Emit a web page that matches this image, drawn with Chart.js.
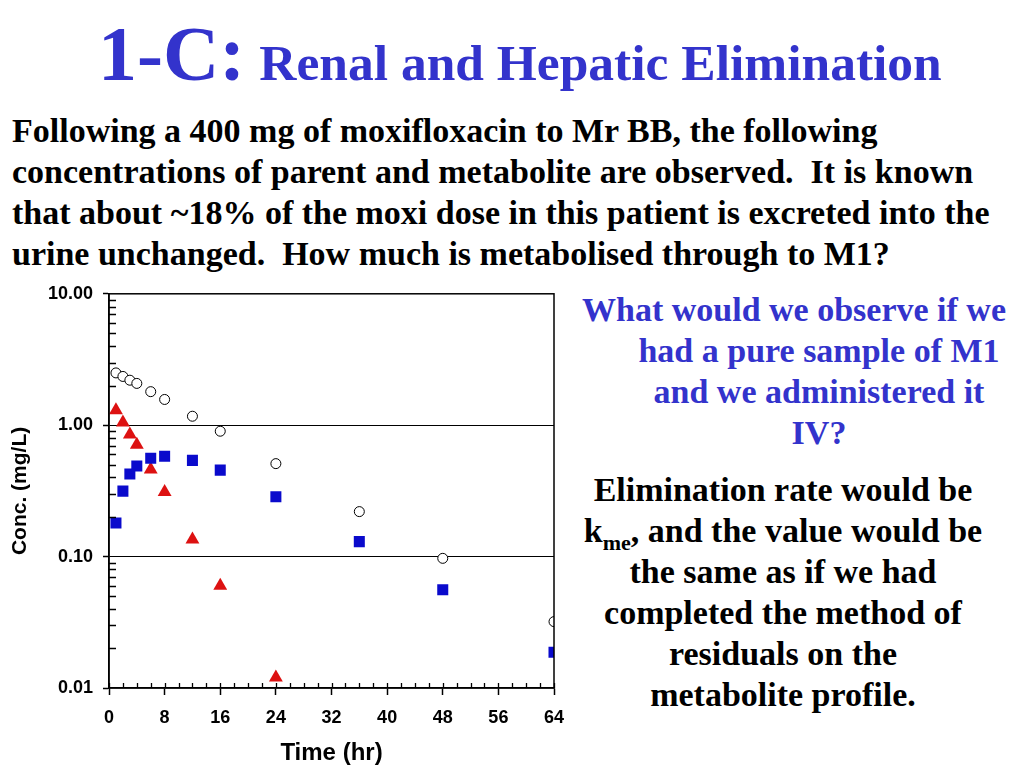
<!DOCTYPE html>
<html>
<head>
<meta charset="utf-8">
<script src="https://cdn.jsdelivr.net/npm/chart.js@4"></script>
<style>
  html, body { margin: 0; padding: 0; background: #fff; }
  body { width: 1024px; height: 768px; position: relative; overflow: hidden; }
  .serif { font-family: "Liberation Serif", "Times New Roman", serif; font-weight: bold; }
  #title { position: absolute; left: 98px; top: 9px; color: #3333CC; white-space: nowrap; }
  #title .big { font-size: 78px; margin-right: 14px; }
  #title .rest { font-size: 51.5px; }
  #intro { position: absolute; left: 12px; top: 110px; font-size: 34px; line-height: 41px; color: #000; white-space: nowrap; }
  #question { position: absolute; left: 579px; top: 289px; width: 480px; text-align: center; font-size: 34px; line-height: 41px; color: #3333CC; white-space: nowrap; }
  #question .first { position: relative; left: -25px; }
  #answer { position: absolute; left: 543px; top: 469px; width: 480px; text-align: center; font-size: 34px; line-height: 41px; color: #000; white-space: nowrap; }
  #answer sub { font-size: 22px; line-height: 0; }
  #chartBox { position: absolute; left: 0; top: 273px; width: 580px; height: 495px; }
</style>
</head>
<body>

<div id="title" class="serif"><span class="big">1-C:</span><span class="rest">Renal and Hepatic Elimination</span></div>

<div id="intro" class="serif">
Following a 400 mg of moxifloxacin to Mr BB, the following<br>
concentrations of parent and metabolite are observed.&nbsp; It is known<br>
that about ~18% of the moxi dose in this patient is excreted into the<br>
urine unchanged.&nbsp; How much is metabolised through to M1?
</div>

<div id="question" class="serif">
<span class="first">What would we observe if we</span><br>
had a pure sample of M1<br>
and we administered it<br>
IV?
</div>

<div id="answer" class="serif">
Elimination rate would be<br>
k<sub>me</sub>, and the value would be<br>
the same as if we had<br>
completed the method of<br>
residuals on the<br>
metabolite profile.
</div>

<div id="chartBox"><canvas id="concChart"></canvas></div>

<script>
// ======================================
// Data
// ======================================

const parentTimes = [1, 2, 3, 4, 6, 8, 12, 16, 24, 36, 48, 64];
const parentConc = [2.5, 2.35, 2.2, 2.08, 1.8, 1.57, 1.17, 0.9, 0.51, 0.22, 0.097, 0.032];

const triangleTimes = [1, 2, 3, 4, 6, 8, 12, 16, 24];
const triangleConc = [1.3, 1.05, 0.85, 0.71, 0.46, 0.31, 0.135, 0.06, 0.012];

const squareTimes = [1, 2, 3, 4, 6, 8, 12, 16, 24, 36, 48, 64];
const squareConc = [0.18, 0.315, 0.425, 0.49, 0.56, 0.58, 0.54, 0.455, 0.285, 0.13, 0.056, 0.0187];

const xTicks = [0, 8, 16, 24, 32, 40, 48, 56, 64];
const yTicks = [0.01, 0.1, 1, 10];

function toPoints(times, values) {
    return times.map(function (t, i) {
        return { x: t, y: values[i] };
    });
}

// ======================================
// Frame + minor ticks
// ======================================

const framePlugin = {

    id: "frame",

    afterDraw: function (chart) {

        const ctx = chart.ctx;
        const area = chart.chartArea;
        const xs = chart.scales.x;
        const ys = chart.scales.y;

        ctx.save();
        ctx.strokeStyle = "#000";
        ctx.lineWidth = 1.5;
        ctx.strokeRect(area.left, area.top, area.right - area.left, area.bottom - area.top);

        ctx.lineWidth = 1.3;
        ctx.beginPath();

        // y minor ticks, pointing inside
        for (let d = 0.01; d < 9; d *= 10) {
            for (let m = 2; m <= 9; m++) {
                const py = Math.round(ys.getPixelForValue(d * m)) + 0.5;
                ctx.moveTo(area.left, py);
                ctx.lineTo(area.left + 7, py);
            }
        }

        // x minor ticks every 2 hr, majors also poke inside
        for (let t = 0; t <= 64; t += 2) {
            const px = Math.round(xs.getPixelForValue(t)) + 0.5;
            ctx.moveTo(px, area.bottom);
            ctx.lineTo(px, area.bottom - 5);
        }

        ctx.stroke();
        ctx.restore();
    }
};

// ======================================
// Chart
// ======================================

const ctx = document.getElementById("concChart").getContext("2d");

new Chart(ctx, {

    type: "scatter",

    data: {

        datasets: [{
            label: "Parent",
            data: toPoints(parentTimes, parentConc),
            pointStyle: "circle",
            pointRadius: 5,
            pointBackgroundColor: "#ffffff",
            pointBorderColor: "#000000",
            pointBorderWidth: 1
        }, {
            label: "M1",
            data: toPoints(squareTimes, squareConc),
            pointStyle: "rect",
            pointRadius: 7.8,
            pointBackgroundColor: "#0A0ACC",
            pointBorderColor: "#0A0ACC",
            pointBorderWidth: 0
        }, {
            label: "Residuals",
            data: toPoints(triangleTimes, triangleConc),
            pointStyle: "triangle",
            pointRadius: 8,
            pointBackgroundColor: "#DD1111",
            pointBorderColor: "#DD1111",
            pointBorderWidth: 0
        }]
    },

    options: {

        responsive: true,
        maintainAspectRatio: false,
        animation: false,
        devicePixelRatio: 1,

        layout: {
            padding: { top: 7, right: 26, left: 0, bottom: 0 }
        },

        plugins: {
            legend: { display: false },
            tooltip: { enabled: false }
        },

        scales: {

            x: {
                type: "linear",
                min: 0,
                max: 64,
                afterBuildTicks: function (scale) {
                    scale.ticks = xTicks.map(function (v) { return { value: v }; });
                },
                afterFit: function (scale) {
                    scale.height = 80;
                },
                ticks: {
                    color: "#000",
                    padding: 12,
                    maxRotation: 0,
                    font: { family: "Liberation Sans", weight: "bold", size: 18 }
                },
                grid: {
                    drawOnChartArea: false,
                    tickLength: 7,
                    tickColor: "#000",
                    tickWidth: 1.5
                },
                border: { color: "#000", width: 1.5 },
                title: {
                    display: true,
                    text: "Time (hr)",
                    color: "#000",
                    padding: { top: 8, bottom: 0 },
                    font: { family: "Liberation Sans", weight: "bold", size: 24 }
                }
            },

            y: {
                type: "logarithmic",
                min: 0.01,
                max: 10,
                afterBuildTicks: function (scale) {
                    scale.ticks = yTicks.map(function (v) { return { value: v }; });
                },
                afterFit: function (scale) {
                    scale.width = 109;
                },
                ticks: {
                    color: "#000",
                    padding: 10,
                    font: { family: "Liberation Sans", weight: "bold", size: 18 },
                    callback: function (value) {
                        return Number(value).toFixed(2);
                    }
                },
                grid: {
                    color: function (c) {
                        const v = c.tick ? c.tick.value : null;
                        return (v === 0.1 || v === 1) ? "#000" : "rgba(0,0,0,0)";
                    },
                    lineWidth: 1,
                    tickLength: 6,
                    tickColor: "#000",
                    tickWidth: 1.5
                },
                border: { color: "#000", width: 1.5 },
                title: {
                    display: true,
                    text: "Conc. (mg/L)",
                    color: "#000",
                    padding: { top: 8, bottom: 4 },
                    font: { family: "Liberation Sans", weight: "bold", size: 21 }
                }
            }
        }
    },

    plugins: [framePlugin]
});
</script>
</body>
</html>
